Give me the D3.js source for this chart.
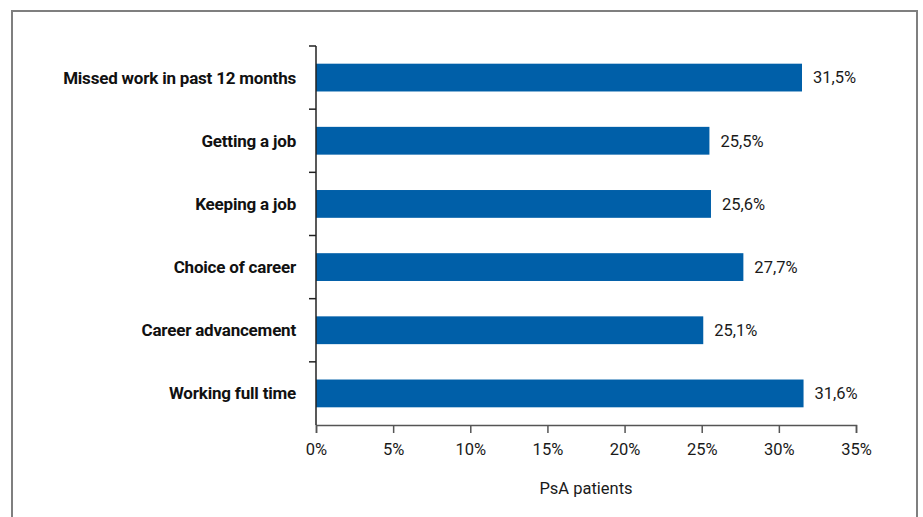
<!DOCTYPE html>
<html>
<head>
<meta charset="utf-8">
<script src="https://cdn.jsdelivr.net/npm/d3@7"></script>
<style>
  html, body { margin: 0; padding: 0; background: #fff; }
  svg { display: block; }
</style>
</head>
<body>
<svg id="chart" width="923" height="517"></svg>
<script>
// Work impact items and share of PsA patients affected (%)
const categories = [
  "Missed work in past 12 months",
  "Getting a job",
  "Keeping a job",
  "Choice of career",
  "Career advancement",
  "Working full time"
];
const values = [31.5, 25.5, 25.6, 27.7, 25.1, 31.6];
const xTicks = [0, 5, 10, 15, 20, 25, 30, 35];
const xTitle = "PsA patients";

const svg = d3.select("#chart");
const W = 923, H = 517;
const margin = { left: 316, right: 67, top: 46, bottom: 92 };
const fontFamily = "Roboto, 'Noto Sans', sans-serif";
const fmt = v => v.toFixed(1).replace(".", ",") + "%";

// Frame around the figure
svg.append("path")
  .attr("d", `M12,${H + 5} L12,11 L917,11 L917,${H + 5}`)
  .attr("fill", "none")
  .attr("stroke", "#7f7f7f")
  .attr("stroke-width", 2);

const x = d3.scaleLinear()
  .domain([0, 35])
  .range([margin.left, W - margin.right]);

const y = d3.scaleBand()
  .domain(categories)
  .range([margin.top, H - margin.bottom])
  .paddingInner(0.56)
  .paddingOuter(0.28);

// Bars
svg.append("g")
  .selectAll("rect")
  .data(categories)
  .join("rect")
  .attr("x", x(0))
  .attr("y", d => y(d))
  .attr("width", (d, i) => x(values[i]) - x(0))
  .attr("height", y.bandwidth())
  .attr("fill", "#005fa8");

// Value labels
svg.append("g")
  .selectAll("text")
  .data(categories)
  .join("text")
  .attr("x", (d, i) => x(values[i]) + 11)
  .attr("y", d => y(d) + y.bandwidth() / 2)
  .attr("dy", "0.35em")
  .attr("font-family", fontFamily)
  .attr("font-size", 16.5)
  .attr("fill", "#1a1a1a")
  .text((d, i) => fmt(values[i]));

// X axis
const xAxis = svg.append("g")
  .attr("transform", `translate(0,${H - margin.bottom})`)
  .call(d3.axisBottom(x).tickValues(xTicks).tickFormat(d => d + "%").tickSize(8).tickPadding(10));
xAxis.select(".domain").attr("stroke", "#555").attr("stroke-width", 1.5);
xAxis.selectAll(".tick line").attr("stroke", "#555").attr("stroke-width", 1.5);
xAxis.selectAll(".tick text")
  .attr("font-family", fontFamily)
  .attr("font-size", 16.5)
  .attr("fill", "#1a1a1a");

// Y axis: line with ticks at band boundaries
const yRange = y.range();
const step = (yRange[1] - yRange[0]) / categories.length;
const yAxisG = svg.append("g");
yAxisG.append("line")
  .attr("x1", x(0)).attr("x2", x(0))
  .attr("y1", yRange[0]).attr("y2", yRange[1])
  .attr("stroke", "#222").attr("stroke-width", 1.5);
yAxisG.selectAll("line.tk")
  .data(d3.range(categories.length))
  .join("line")
  .attr("class", "tk")
  .attr("x1", x(0) - 7).attr("x2", x(0))
  .attr("y1", i => yRange[0] + i * step)
  .attr("y2", i => yRange[0] + i * step)
  .attr("stroke", "#222").attr("stroke-width", 1.5);

// Category labels
svg.append("g")
  .selectAll("text")
  .data(categories)
  .join("text")
  .attr("x", x(0) - 20)
  .attr("y", d => y(d) + y.bandwidth() / 2)
  .attr("dy", "0.35em")
  .attr("text-anchor", "end")
  .attr("font-family", fontFamily)
  .attr("font-weight", 700)
  .attr("font-size", 17)
  .attr("letter-spacing", "-0.2px")
  .attr("fill", "#111")
  .text(d => d);

// Axis title
svg.append("text")
  .attr("x", (x(0) + x(35)) / 2)
  .attr("y", 494)
  .attr("text-anchor", "middle")
  .attr("font-family", fontFamily)
  .attr("font-size", 16.5)
  .attr("fill", "#1a1a1a")
  .text(xTitle);
</script>
</body>
</html>
